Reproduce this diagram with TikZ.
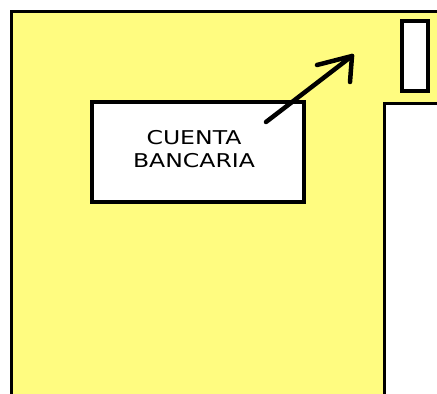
\documentclass[tikz,border=0pt]{standalone}
\usepackage{fontspec}
\setmainfont{DejaVu Sans}
\definecolor{ylw}{RGB}{255,252,128}
\tikzset{
  frame/.style={draw=black, line width=3.5pt},
  label/.style={font=\fontsize{19}{23}\selectfont, align=center, inner sep=0pt},
  pointer/.style={draw=black, line width=4.5pt, line cap=round, line join=round},
}
\begin{document}
\begin{tikzpicture}[x=1pt,y=-1pt]
\useasboundingbox (0,0) rectangle (437,394);
\clip (0,0) rectangle (437,394);
% yellow area
\path[frame, fill=ylw] (11.5,11.5) rectangle (450,410);
% white lower-right region
\path[frame, fill=white] (384.5,103.5) rectangle (450,410);
% small tall rectangle
\node[frame, fill=white, minimum width=26pt, minimum height=70pt, inner sep=0pt] (slot) at (415,56) {};
% bank account box
\node[frame, fill=white, minimum width=212pt, minimum height=100pt, inner sep=0pt] (box) at (198,152) {};
\node[label] (txt) at (194,149.5) {\scalebox{1.24}[1]{CUENTA}\\\scalebox{1.24}[1]{BANCARIA}};
% arrow
\coordinate (a) at (266,122);
\coordinate (b) at (352,56);
\path[pointer] (a) -- (b);
\path[pointer] (b) -- ++(-35,9);
\path[pointer] (b) -- ++(-2,26);
\end{tikzpicture}
\end{document}
